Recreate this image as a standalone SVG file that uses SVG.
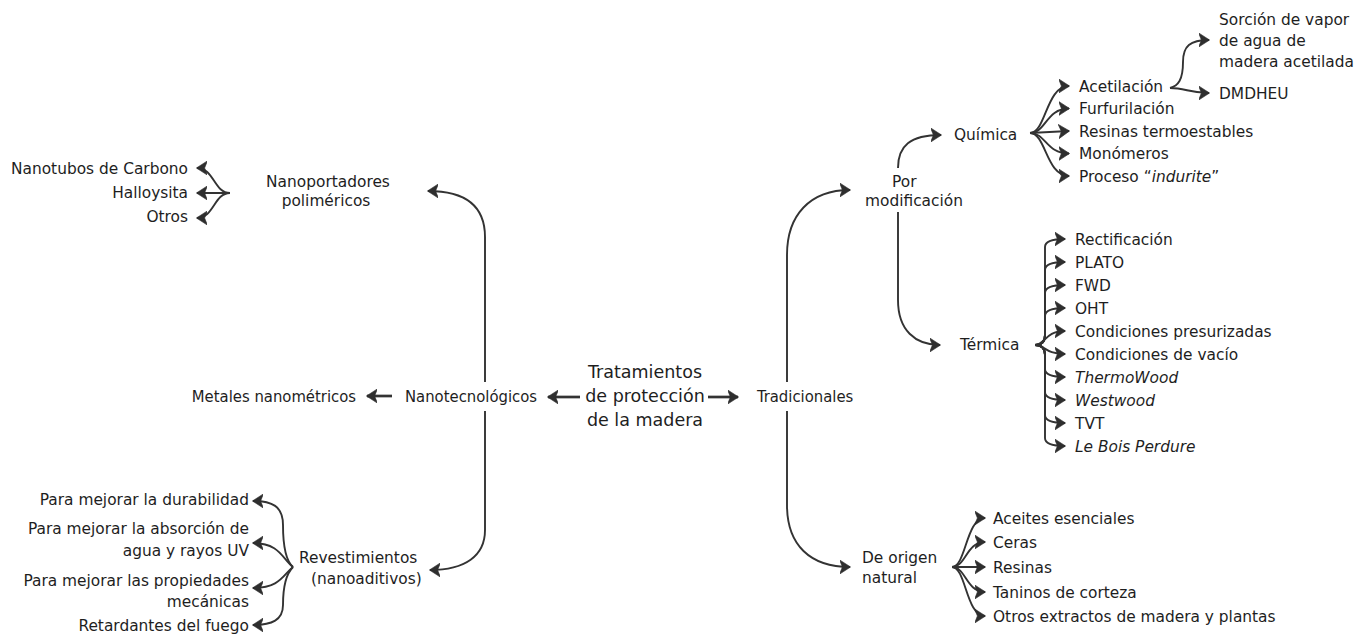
<svg xmlns="http://www.w3.org/2000/svg" width="1368" height="636" viewBox="0 0 1368 636">
<style>
text{font-family:"DejaVu Sans",Verdana,sans-serif;font-size:15.4px;fill:#1e1e1e}
.c{font-family:"DejaVu Sans Condensed","DejaVu Sans",sans-serif;font-stretch:condensed;font-size:16.5px}
.t{font-size:17.5px}
.i{font-style:italic}
.e{text-anchor:end}
.m{text-anchor:middle}
.l{fill:none;stroke:#333;stroke-width:1.9;marker-end:url(#ah)}
.k{stroke-width:2.7}
</style>
<defs>
<marker id="ah" viewBox="0 0 10 13" refX="9.5" refY="6.5" markerWidth="11" markerHeight="14.3" markerUnits="userSpaceOnUse" orient="auto">
<path d="M0,0 L10,6.5 L0,13 L2.6,6.5 z" fill="#2e2e2e" stroke="#2e2e2e" stroke-width="0.6" stroke-linejoin="round"/>
</marker>
</defs>
<rect width="1368" height="636" fill="#fff"/>
<g id="connectors">
<path class="l k" d="M580,397 L548,397"/>
<path class="l k" d="M708,397 L738,397"/>
<path class="l k" d="M392,396 L367,396"/>
<path class="l" d="M485,382 L485,237 C485,205 465,191 428,191"/>
<path class="l" d="M485,411 L485,530 C485,556 465,570 430,570"/>
<path class="l" d="M230,193 C214,193 214,168 197,168"/>
<path class="l" d="M230,193 L197,193"/>
<path class="l" d="M230,193 C214,193 214,218 197,218"/>
<path class="l" d="M293,567 C285,560 283,545 283,525 C283,506 272,501 253,501"/>
<path class="l" d="M293,567 C283,560 280,543 253,543"/>
<path class="l" d="M293,567 C283,575 280,588 253,588"/>
<path class="l" d="M293,567 C285,575 283,590 283,605 C283,620 272,625 253,625"/>
<path class="l" d="M787,382 L787,255 C787,215 810,190 850,190"/>
<path class="l" d="M787,411 L787,505 C787,545 810,567 850,567"/>
<path class="l" d="M898,168 C898,146 910,135 941,135"/>
<path class="l" d="M898,212 L898,300 C898,330 915,345 940,345"/>
<path class="l" d="M1030,133 C1046,133 1046,86 1069,86"/>
<path class="l" d="M1030,133 C1046,133 1046,108.5 1069,108.5"/>
<path class="l" d="M1030,133 L1069,131"/>
<path class="l" d="M1030,133 C1046,133 1046,153.5 1069,153.5"/>
<path class="l" d="M1030,133 C1046,133 1046,176 1069,176"/>
<path class="l" d="M1170,88 C1178,86 1183,80 1183,62 C1183,46 1190,40 1209,40"/>
<path class="l" d="M1170,88 C1185,88 1190,93 1209,93"/>
<path class="l" d="M1035,345 Q1045,345 1045,335 L1045,247 Q1045,239 1065,239"/>
<path class="l" d="M1035,345 Q1045,345 1045,335 L1045,270 Q1045,262 1065,262"/>
<path class="l" d="M1035,345 Q1045,345 1045,335 L1045,293 Q1045,285 1065,285"/>
<path class="l" d="M1035,345 Q1045,345 1045,335 L1045,316 Q1045,308 1065,308"/>
<path class="l" d="M1035,345 C1045,345 1045,331 1065,331"/>
<path class="l" d="M1035,345 C1045,345 1045,354 1065,354"/>
<path class="l" d="M1035,345 Q1045,345 1045,355 L1045,369 Q1045,377 1065,377"/>
<path class="l" d="M1035,345 Q1045,345 1045,355 L1045,392 Q1045,400 1065,400"/>
<path class="l" d="M1035,345 Q1045,345 1045,355 L1045,415 Q1045,423 1065,423"/>
<path class="l" d="M1035,345 Q1045,345 1045,355 L1045,438 Q1045,446 1065,446"/>
<path class="l" d="M952,567 C966,567 966,518 985,518"/>
<path class="l" d="M952,567 C966,567 966,542 985,542"/>
<path class="l" d="M952,567 L985,567"/>
<path class="l" d="M952,567 C966,567 966,592 985,592"/>
<path class="l" d="M952,567 C966,567 966,616 985,616"/>
</g>
<g id="root"><text class="t m" x="645" y="378">Tratamientos</text><text class="t m" x="645" y="402">de protección</text><text class="t m" x="645" y="426">de la madera</text></g>
<g id="nanotec"><text class="c" x="405" y="402">Nanotecnológicos</text></g>
<g id="tradicionales"><text class="c" x="757" y="402">Tradicionales</text></g>
<g id="metales"><text class="c e" x="356" y="402">Metales nanométricos</text></g>
<g id="nanoportadores"><text class="m" x="328" y="187">Nanoportadores</text><text class="m" x="326" y="206">poliméricos</text></g>
<g id="nanotubos"><text class="e" x="188" y="174">Nanotubos de Carbono</text></g>
<g id="halloysita"><text class="e" x="188" y="198">Halloysita</text></g>
<g id="otros"><text class="e" x="188" y="222">Otros</text></g>
<g id="revestimientos"><text x="299" y="563">Revestimientos</text><text x="311" y="584">(nanoaditivos)</text></g>
<g id="durabilidad"><text class="e" x="249" y="505">Para mejorar la durabilidad</text></g>
<g id="absorcion"><text class="e" x="249" y="534">Para mejorar la absorción de</text><text class="e" x="249" y="556">agua y rayos UV</text></g>
<g id="mecanicas"><text class="e" x="249" y="586">Para mejorar las propiedades</text><text class="e" x="249" y="607">mecánicas</text></g>
<g id="fuego"><text class="e" x="249" y="631">Retardantes del fuego</text></g>
<g id="modificacion"><text x="892" y="187">Por</text><text x="865" y="206">modificación</text></g>
<g id="quimica"><text x="954" y="140">Química</text></g>
<g id="termica"><text x="960" y="350">Térmica</text></g>
<g id="natural"><text x="862" y="563">De origen</text><text x="862" y="583">natural</text></g>
<g id="acetilacion"><text x="1079" y="91.5">Acetilación</text></g>
<g id="furfurilacion"><text x="1079" y="114">Furfurilación</text></g>
<g id="resinas-t"><text x="1079" y="136.5">Resinas termoestables</text></g>
<g id="monomeros"><text x="1079" y="159">Monómeros</text></g>
<g id="indurite"><text x="1079" y="181.5">Proceso “<tspan class="i">indurite</tspan>”</text></g>
<g id="sorcion"><text x="1219" y="25">Sorción de vapor</text><text x="1219" y="46">de agua de</text><text x="1219" y="67">madera acetilada</text></g>
<g id="dmdheu"><text x="1219" y="98.5">DMDHEU</text></g>
<g id="rectificacion"><text x="1075" y="244.5">Rectificación</text></g>
<g id="plato"><text x="1075" y="267.5">PLATO</text></g>
<g id="fwd"><text x="1075" y="290.5">FWD</text></g>
<g id="oht"><text x="1075" y="313.5">OHT</text></g>
<g id="presurizadas"><text x="1075" y="336.5">Condiciones presurizadas</text></g>
<g id="vacio"><text x="1075" y="359.5">Condiciones de vacío</text></g>
<g id="thermowood"><text class="i" x="1075" y="382.5">ThermoWood</text></g>
<g id="westwood"><text class="i" x="1075" y="405.5">Westwood</text></g>
<g id="tvt"><text x="1075" y="428.5">TVT</text></g>
<g id="leboisperdure"><text class="i" x="1075" y="451.5">Le Bois Perdure</text></g>
<g id="aceites"><text x="993" y="523.5">Aceites esenciales</text></g>
<g id="ceras"><text x="993" y="547.5">Ceras</text></g>
<g id="resinas-n"><text x="993" y="572.5">Resinas</text></g>
<g id="taninos"><text x="993" y="597.5">Taninos de corteza</text></g>
<g id="extractos"><text x="993" y="621.5">Otros extractos de madera y plantas</text></g>
</svg>
